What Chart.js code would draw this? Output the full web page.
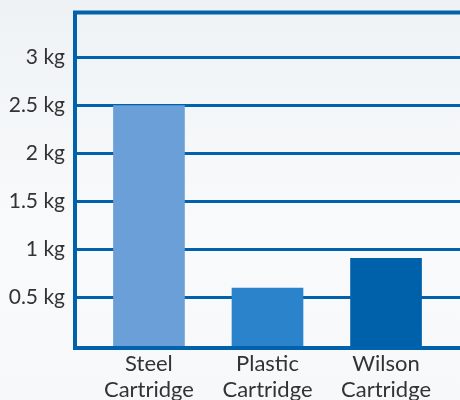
<!DOCTYPE html>
<html>
<head>
<meta charset="utf-8">
<script src="https://cdn.jsdelivr.net/npm/chart.js@4.4.1/dist/chart.umd.min.js"></script>
<style>
  html, body { margin: 0; padding: 0; }
  body {
    width: 460px;
    height: 400px;
    overflow: hidden;
    background: linear-gradient(180deg, #eff2f4 0%, #f3f6f8 25%, #f9fafb 60%, #f6f8fa 100%);
  }
</style>
</head>
<body>
<canvas id="myChart" width="460" height="400"></canvas>
<script>
const categories = [['Steel', 'Cartridge'], ['Plastic', 'Cartridge'], ['Wilson', 'Cartridge']];
const weights = [2.5, 0.6, 0.91];
const barColors = ['#6a9fd7', '#2a83cb', '#0061ab'];
const yTicks = [0.5, 1, 1.5, 2, 2.5, 3];

const frameColor = '#0062ad';
const textColor = '#333333';

// the original draws a closed frame, chart.js only has the axis borders
const topFrame = {
    id: 'topFrame',
    afterDraw(chart) {
        const { ctx, chartArea } = chart;
        ctx.save();
        ctx.strokeStyle = frameColor;
        ctx.lineWidth = 4;
        ctx.beginPath();
        ctx.moveTo(chartArea.left - 2, chartArea.top);
        ctx.lineTo(chartArea.right, chartArea.top);
        ctx.stroke();
        ctx.restore();
    },
};

const ctx = document.getElementById('myChart').getContext('2d');
new Chart(ctx, {
    type: 'bar',
    data: {
        datasets: [{
            data: weights.map((w, i) => ({ x: i, y: w })),
            backgroundColor: barColors,
            borderWidth: 0,
            barThickness: 71,
        }],
    },
    plugins: [topFrame],
    options: {
        responsive: false,
        animation: false,
        layout: {
            padding: { top: 12.5, left: 0, right: 0, bottom: 0 },
        },
        plugins: {
            legend: { display: false },
            tooltip: { enabled: false },
        },
        scales: {
            x: {
                type: 'linear',
                offset: false,
                min: -0.624,
                max: 2.624,
                afterBuildTicks: scale => {
                    scale.ticks = categories.map((c, i) => ({ value: i }));
                },
                afterFit: scale => {
                    scale.height = 52;
                    scale.paddingLeft = 0;
                    scale.paddingRight = 0;
                },
                grid: { display: false, drawTicks: false },
                border: { color: frameColor, width: 4 },
                ticks: {
                    color: textColor,
                    font: { family: 'Lato', size: 22, lineHeight: 1.18 },
                    padding: 3,
                    maxRotation: 0,
                    autoSkip: false,
                    callback: value => categories[value] ?? '',
                },
            },
            y: {
                min: -0.025,
                max: 3.47,
                afterBuildTicks: scale => {
                    scale.ticks = yTicks.map(v => ({ value: v }));
                },
                afterFit: scale => {
                    scale.width = 75;
                    scale.paddingTop = 0;
                    scale.paddingBottom = 0;
                },
                grid: { color: frameColor, lineWidth: 3, drawTicks: false },
                border: { color: frameColor, width: 4 },
                ticks: {
                    color: textColor,
                    font: { family: 'Lato', size: 21 },
                    padding: 10,
                    callback: value => value + ' kg',
                },
            },
        },
    },
});
</script>
</body>
</html>
